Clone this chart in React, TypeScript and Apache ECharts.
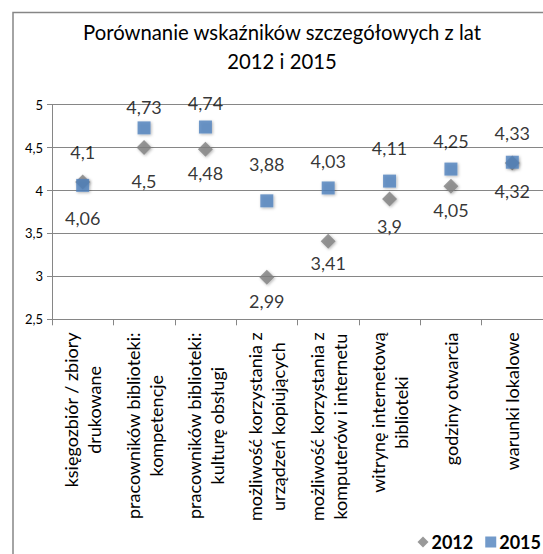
import React, { useEffect, useRef } from "react";
import * as echarts from "echarts";

const categories = [
  "księgozbiór / zbiory\ndrukowane",
  "pracowników biblioteki:\nkompetencje",
  "pracowników biblioteki:\nkulturę obsługi",
  "możliwość korzystania z\nurządzeń kopiujących",
  "możliwość korzystania z\nkomputerów i internetu",
  "witrynę internetową\nbiblioteki",
  "godziny otwarcia",
  "warunki lokalowe",
];
const values2012 = [4.1, 4.5, 4.48, 2.99, 3.41, 3.9, 4.05, 4.32];
const values2015 = [4.06, 4.73, 4.74, 3.88, 4.03, 4.11, 4.25, 4.33];
const seriesNames = ["2012", "2015"];
const yTicks = { min: 2.5, max: 5, interval: 0.5 };

// label vertical offsets (px) of each data label relative to its marker
const labelDy2012 = [-30, 33, 24, 24, 22, 27, 24, 28];
const labelDy2015 = [33, -21, -24, -37, -27, -33, -28, -29];

const FONT = "Lato";
const fmt = (v: number) => String(v).replace(".", ",");

export default function App() {
  const ref = useRef<HTMLDivElement>(null);
  useEffect(() => {
    if (!ref.current) return;
    const chart = echarts.init(ref.current, undefined, { renderer: "svg" });
    const mk = (vals: number[], dys: number[]) =>
      vals.map((v, i) => ({
        value: v,
        label: { offset: [0, dys[i]] },
      }));
    const shadow = {
      shadowBlur: 3,
      shadowColor: "rgba(0,0,0,0.35)",
      shadowOffsetX: 1,
      shadowOffsetY: 1,
    };
    const labelBase = {
      show: true,
      position: "inside",
      color: "#000",
      fontFamily: FONT,
      fontSize: 18,
      formatter: (p: any) => fmt(p.value),
    };
    chart.setOption({
      animation: false,
      backgroundColor: "#fff",
      textStyle: { fontFamily: FONT },
      title: {
        text: "Porównanie wskaźników szczegółowych z lat\n2012 i 2015",
        left: 282,
        textAlign: "center",
        top: 17,
        padding: 0,
        textStyle: {
          fontFamily: FONT,
          fontSize: 20.3,
          fontWeight: "normal",
          color: "#000",
          lineHeight: 29,
        },
      },
      graphic: [
        {
          type: "rect",
          shape: { x: 13, y: 12.5, width: 700, height: 700 },
          style: { fill: "none", stroke: "#868686", lineWidth: 1.5 },
          silent: true,
        },
      ],
      legend: {
        right: 2,
        top: 533,
        padding: 0,
        itemGap: 12,
        itemWidth: 11,
        itemHeight: 11,
        textStyle: { fontFamily: FONT, fontSize: 18, fontWeight: "bold", color: "#000", padding: [0, 0, 0, -2] },
        data: [
          { name: seriesNames[0], icon: "diamond" },
          { name: seriesNames[1], icon: "rect" },
        ],
      },
      grid: { left: 52, top: 104.7, width: 499, height: 214.6, containLabel: false },
      xAxis: {
        type: "category",
        data: categories,
        boundaryGap: true,
        axisLine: { lineStyle: { color: "#868686", width: 1 } },
        axisTick: { show: true, length: 6, alignWithLabel: false, lineStyle: { color: "#868686" } },
        axisLabel: {
          interval: 0,
          rotate: 90,
          margin: 13,
          formatter: (v: string) =>
            v
              .split("\n")
              .map((l) => `{c|${l}}`)
              .join("\n"),
          rich: {
            c: {
              align: "center",
              fontFamily: FONT,
              fontSize: 18,
              lineHeight: 23,
              color: "#000",
            },
          },
        },
      },
      yAxis: {
        type: "value",
        min: yTicks.min,
        max: yTicks.max,
        interval: yTicks.interval,
        axisLine: { show: true, lineStyle: { color: "#868686" } },
        axisTick: { show: true, length: 5, lineStyle: { color: "#868686" } },
        splitLine: { lineStyle: { color: "#868686", width: 1 } },
        axisLabel: {
          margin: 9,
          fontFamily: FONT,
          fontSize: 13,
          color: "#000",
          formatter: (v: number) => fmt(v),
        },
      },
      series: [
        {
          name: seriesNames[0],
          type: "scatter",
          symbol: "diamond",
          symbolSize: 15,
          itemStyle: { color: "#7f7f7f", ...shadow },
          label: labelBase,
          data: mk(values2012, labelDy2012),
          z: 2,
        },
        {
          name: seriesNames[1],
          type: "scatter",
          symbol: "rect",
          symbolSize: 13,
          itemStyle: { color: "#4f81bd", ...shadow },
          label: labelBase,
          data: mk(values2015, labelDy2015),
          z: 3,
        },
      ],
    });
    return () => chart.dispose();
  }, []);
  return (
    <div
      ref={ref}
      style={{ position: "absolute", left: 0, top: 0, width: 543, height: 554 }}
    />
  );
}
